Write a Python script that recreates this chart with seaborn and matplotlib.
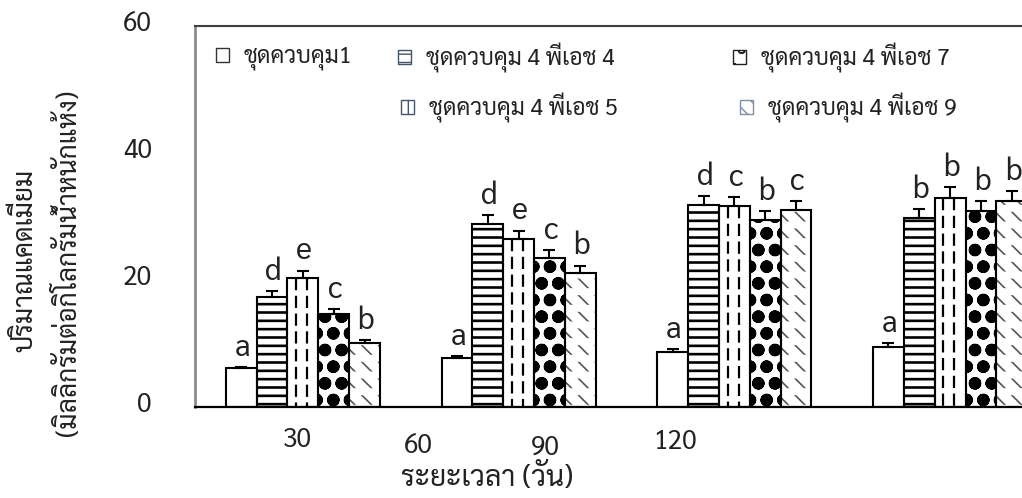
import numpy as np
import pandas as pd
import matplotlib
matplotlib.use('Agg')
import matplotlib.pyplot as plt
from matplotlib import font_manager as fm
from matplotlib.patches import Rectangle
from matplotlib.transforms import ScaledTranslation
import seaborn as sns

# ---- data -------------------------------------------------------------
days = ['30', '60', '90', '120']
treatments = ['ชุดควบคุม1', 'ชุดควบคุม 4 พีเอช 4', 'ชุดควบคุม 4 พีเอช 5',
              'ชุดควบคุม 4 พีเอช 7', 'ชุดควบคุม 4 พีเอช 9']

cd_control1 = [6.0, 7.6, 8.6, 9.4]
cd_ph4 = [17.3, 28.7, 31.7, 29.7]
cd_ph5 = [20.3, 26.4, 31.5, 32.8]
cd_ph7 = [14.6, 23.4, 29.4, 30.8]
cd_ph9 = [10.0, 21.1, 30.9, 32.3]

se_control1 = [0.27, 0.4, 0.45, 0.55]
se_ph4 = [0.9, 1.5, 1.5, 1.4]
se_ph5 = [1.1, 1.3, 1.55, 1.7]
se_ph7 = [0.75, 1.2, 1.4, 1.5]
se_ph9 = [0.5, 1.1, 1.5, 1.65]

letters_control1 = ['a', 'a', 'a', 'a']
letters_ph4 = ['d', 'd', 'd', 'b']
letters_ph5 = ['e', 'e', 'c', 'b']
letters_ph7 = ['c', 'c', 'b', 'b']
letters_ph9 = ['b', 'b', 'c', 'b']

y_ticks = [0, 20, 40, 60]
y_label_lines = ['ปริมาณแคดเมียม', '(มิลลิกรัมต่อกิโลกรัมน้ำหนักแห้ง)']
x_label = 'ระยะเวลา (วัน)'

means = [cd_control1, cd_ph4, cd_ph5, cd_ph7, cd_ph9]
errors = [se_control1, se_ph4, se_ph5, se_ph7, se_ph9]
letters = [letters_control1, letters_ph4, letters_ph5, letters_ph7, letters_ph9]

df = pd.DataFrame({
    'day': np.tile(days, len(treatments)),
    'treatment': np.repeat(treatments, len(days)),
    'cd': np.concatenate(means),
})

# ---- style ------------------------------------------------------------
sns.set_theme(style='white')
installed = {f.name for f in fm.fontManager.ttflist}
thai_font = next((n for n in ['Sarabun', 'Noto Sans Thai Looped', 'Noto Sans Thai',
                              'Anuphan', 'Athiti'] if n in installed), 'DejaVu Sans')
plt.rcParams['font.family'] = [thai_font, 'DejaVu Sans']

FS_TICK = 19
FS_LETTER = 22
FS_LEGEND = 16.5
FS_LABEL = 19
FS_XLABEL = 20.5
TEXT = '#222222'

W, H = 1022, 498


def fx(px):
    return px / W


def fy(py):
    return 1 - py / H


fig = plt.figure(figsize=(W / 100, H / 100), dpi=100)
ax = fig.add_axes([fx(195), fy(406.5), (1058 - 195) / W, (406.5 - 25.5) / H])

sns.barplot(data=df, x='day', y='cd', hue='treatment', order=days,
            hue_order=treatments, palette=['white'] * len(treatments),
            saturation=1, width=5 / 7, errorbar=None, linewidth=0,
            legend=False, ax=ax)

# fill pattern per treatment: (hatch, hatch colour, hatch linewidth)
patterns = [
    (None, 'black', 1.0),
    ('--', 'black', 1.9),
    (None, 'black', 1.0),
    ('o', 'black', 4.3),
    ('\\\\', '#555555', 1.2),
]

bar_centres = []
for container, (hatch, hcol, hlw) in zip(ax.containers, patterns):
    xs = []
    for patch in container.patches:
        patch.set_facecolor('white')
        patch.set_edgecolor(hcol)
        patch.set_linewidth(0)
        if hatch:
            patch.set_hatch(hatch)
            patch.set_hatch_linewidth(hlw)
        xs.append(patch.get_x() + patch.get_width() / 2)
    bar_centres.append(xs)

# pH 9: white bands break the diagonal strokes into short dashes
for patch in ax.containers[4].patches:
    band = Rectangle((patch.get_x(), 0), patch.get_width(), patch.get_height(),
                     fill=False, linewidth=0, edgecolor='white', hatch='-',
                     zorder=1.1)
    band.set_hatch_linewidth(5.0)
    ax.add_patch(band)

# pH 5: two dashed vertical strokes inside each bar
for patch in ax.containers[2].patches:
    x0, w, h = patch.get_x(), patch.get_width(), patch.get_height()
    ax.vlines([x0 + 0.28 * w, x0 + 0.64 * w], h, 0, colors='black',
              linewidth=1.6, linestyles=[(0, (5.5, 2.5))], zorder=1.15)

# black outlines on every bar
for container in ax.containers:
    for patch in container.patches:
        ax.add_patch(Rectangle((patch.get_x(), 0), patch.get_width(),
                               patch.get_height(), fill=False,
                               edgecolor='black', linewidth=1.5, zorder=1.2))

# upper error bars and significance letters
for xs, ys, es, labs in zip(bar_centres, means, errors, letters):
    ax.errorbar(xs, ys, yerr=[np.zeros(len(es)), es], fmt='none',
                ecolor='black', elinewidth=1.5, capsize=4.3, capthick=1.5,
                zorder=2)
    for x, y, e, lab in zip(xs, ys, es, labs):
        ax.annotate(lab, xy=(x, y + e), xytext=(1, 8),
                    textcoords='offset points', ha='center', va='baseline',
                    fontsize=FS_LETTER, color=TEXT)

# ---- axes ---------------------------------------------------------------
ax.set_xlim(-0.5, len(days) - 0.5)
ax.set_ylim(0, 60)
ax.set_yticks(y_ticks)
ax.set_yticklabels([str(t) for t in y_ticks], fontsize=FS_TICK, color=TEXT)
ax.tick_params(axis='y', length=0, pad=31)
for lbl in ax.get_yticklabels():
    lbl.set_transform(lbl.get_transform() +
                      ScaledTranslation(0, 0.05, fig.dpi_scale_trans))
ax.set_xticks([])
ax.set_xlabel('')
ax.set_ylabel('')

ax.spines['left'].set_color('#8c8c8c')
ax.spines['left'].set_linewidth(2.0)
ax.spines['top'].set_color('#404040')
ax.spines['top'].set_linewidth(1.5)
ax.spines['right'].set_color('#404040')
ax.spines['right'].set_linewidth(1.5)
ax.spines['bottom'].set_color('black')
ax.spines['bottom'].set_linewidth(1.6)

# day labels sit as free text boxes under the axis
day_label_px = [(297, 440), (418, 446), (545, 448), (675, 442)]
for d, (px, py) in zip(days, day_label_px):
    fig.text(fx(px), fy(py), d, ha='center', va='center', fontsize=FS_TICK,
             color=TEXT)

fig.text(fx(487), fy(478), x_label, ha='center', va='center',
         fontsize=FS_XLABEL, color=TEXT)
for line, (px, py) in zip(y_label_lines, [(25, 260), (68, 263)]):
    fig.text(fx(px), fy(py), line, ha='center', va='center', rotation=90,
             fontsize=FS_LABEL, color=TEXT)

# ---- legend -------------------------------------------------------------
handle_patterns = [None, '--', '|', 'o', '\\\\']
handle_edges = ['#333333', '#44546a', '#44546a', '#222222', '#7f8fa6']
legend_slots = [(216, 58), (398, 58), (401, 108), (733, 58), (740, 108)]
handle_px = 13
fs_px = FS_LEGEND * 100 / 72
for name, hatch, ec, (px, py) in zip(treatments, handle_patterns, handle_edges,
                                      legend_slots):
    h = Rectangle((0, 0), 1, 1, facecolor='white', edgecolor=ec,
                  linewidth=1.0, hatch=hatch)
    if hatch == 'o':
        h.set_hatch_linewidth(2.5)
    fig.legend([h], [name], loc='center left', bbox_to_anchor=(fx(px), fy(py)),
               frameon=False, borderpad=0, borderaxespad=0,
               handlelength=handle_px / fs_px, handleheight=handle_px / fs_px,
               handletextpad=15 / fs_px, fontsize=FS_LEGEND,
               labelcolor=TEXT)

fig.savefig('out.png', dpi=100)
